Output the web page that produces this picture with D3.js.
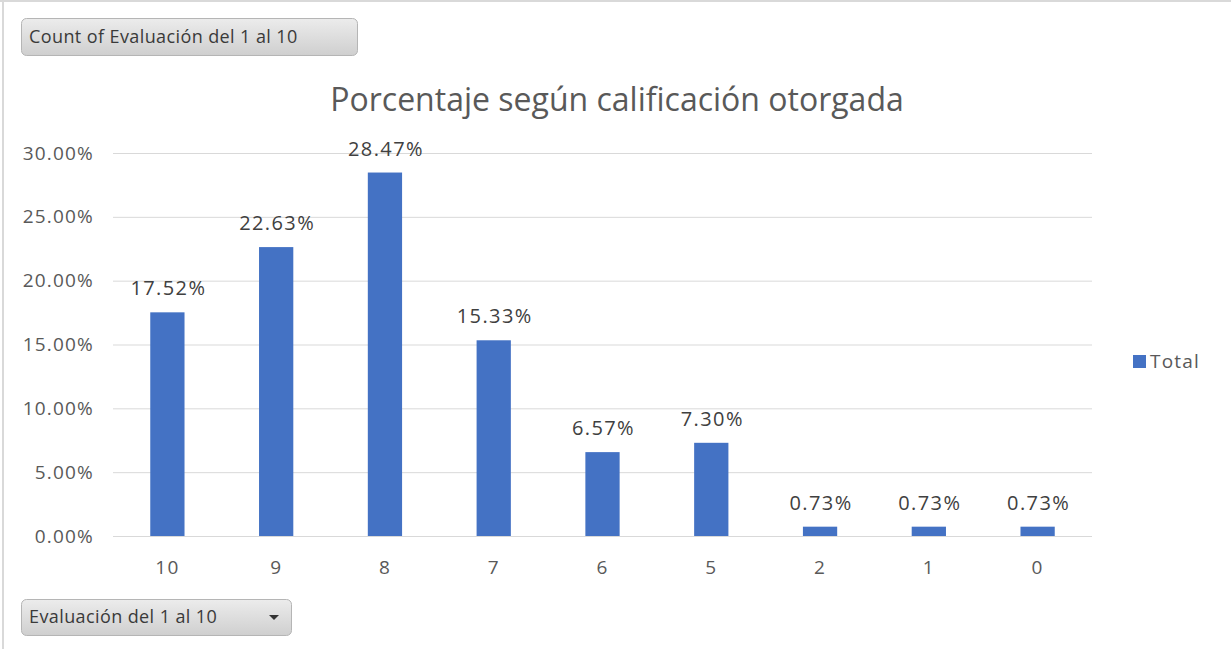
<!DOCTYPE html>
<html>
<head>
<meta charset="utf-8">
<script src="https://cdn.jsdelivr.net/npm/d3@7"></script>
<style>
  html, body { margin: 0; padding: 0; background: #fff; }
  svg { display: block; }
</style>
</head>
<body>
<svg id="chart" width="1231" height="649"></svg>
<script>
// chart data
const categories = ['10', '9', '8', '7', '6', '5', '2', '1', '0'];
const values = [17.52, 22.63, 28.47, 15.33, 6.57, 7.30, 0.73, 0.73, 0.73];
const yTicks = [0, 5, 10, 15, 20, 25, 30];
const title = 'Porcentaje según calificación otorgada';
const seriesName = 'Total';
const valueButton = 'Count of Evaluación del 1 al 10';
const axisButton = 'Evaluación del 1 al 10';

const W = 1231, H = 649;
const plot = { left: 113, right: 1092, top: 153, bottom: 536 };
const font = "'Open Sans', 'Noto Sans', sans-serif";
const barColor = '#4472c4';

const svg = d3.select('#chart');

// gradient for pivot buttons
const defs = svg.append('defs');
const grad = defs.append('linearGradient')
    .attr('id', 'btn').attr('x1', 0).attr('y1', 0).attr('x2', 0).attr('y2', 1);
grad.append('stop').attr('offset', '0%').attr('stop-color', '#ececec');
grad.append('stop').attr('offset', '100%').attr('stop-color', '#cfcfcf');

// outer frame
svg.append('line').attr('x1', 0).attr('x2', W).attr('y1', 1).attr('y2', 1)
    .attr('stroke', '#d9d9d9').attr('stroke-width', 2);
svg.append('line').attr('x1', 3).attr('x2', 3).attr('y1', 0).attr('y2', H)
    .attr('stroke', '#d9d9d9').attr('stroke-width', 2);

// scales
const x = d3.scaleBand()
    .domain(categories)
    .range([plot.left, plot.right])
    .paddingInner(0.685)
    .paddingOuter(0.3425);

const y = d3.scaleLinear()
    .domain([0, 30])
    .range([plot.bottom, plot.top]);

// grid
svg.append('g')
    .selectAll('line')
    .data(yTicks)
    .join('line')
    .attr('x1', plot.left)
    .attr('x2', plot.right)
    .attr('y1', d => y(d) + 0.5)
    .attr('y2', d => y(d) + 0.5)
    .attr('stroke', '#d9d9d9')
    .attr('stroke-width', 1);

// y axis labels
const yAxis = svg.append('g')
    .attr('transform', `translate(${plot.left - 19},0)`)
    .call(d3.axisLeft(y).tickValues(yTicks).tickSize(0).tickPadding(0)
        .tickFormat(d => d.toFixed(2) + '%'));
yAxis.select('.domain').remove();
yAxis.selectAll('text')
    .attr('font-family', font)
    .attr('font-size', 19)
    .attr('letter-spacing', 1.2)
    .attr('fill', '#595959');

// x axis labels
const xAxis = svg.append('g')
    .attr('transform', `translate(0,${plot.bottom})`)
    .call(d3.axisBottom(x).tickSize(0).tickPadding(25));
xAxis.select('.domain').remove();
xAxis.selectAll('text')
    .attr('font-family', font)
    .attr('font-size', 19)
    .attr('letter-spacing', 1.2)
    .attr('fill', '#595959');

// bars
svg.append('g')
    .selectAll('rect')
    .data(values)
    .join('rect')
    .attr('x', (d, i) => x(categories[i]))
    .attr('y', d => y(d))
    .attr('width', x.bandwidth())
    .attr('height', d => y(0) - y(d))
    .attr('fill', barColor);

// data labels
svg.append('g')
    .selectAll('text')
    .data(values)
    .join('text')
    .attr('x', (d, i) => x(categories[i]) + x.bandwidth() / 2 + 1)
    .attr('y', d => y(d) - 17)
    .attr('text-anchor', 'middle')
    .attr('font-family', font)
    .attr('font-size', 20)
    .attr('letter-spacing', 1.4)
    .attr('fill', '#404040')
    .text(d => d.toFixed(2) + '%');

// title
svg.append('text')
    .attr('x', 617)
    .attr('y', 111)
    .attr('text-anchor', 'middle')
    .attr('font-family', font)
    .attr('font-size', 32)
    .attr('fill', '#595959')
    .text(title);

// legend
svg.append('rect')
    .attr('x', 1133).attr('y', 355)
    .attr('width', 13).attr('height', 13)
    .attr('fill', barColor);
svg.append('text')
    .attr('x', 1150).attr('y', 368)
    .attr('font-family', font)
    .attr('font-size', 19)
    .attr('letter-spacing', 1.2)
    .attr('fill', '#595959')
    .text(seriesName);

// pivot field buttons
function button(bx, by, bw, bh, label, dropdown) {
    const g = svg.append('g');
    g.append('rect')
        .attr('x', bx + 0.5).attr('y', by + 0.5)
        .attr('width', bw).attr('height', bh)
        .attr('rx', 5)
        .attr('fill', 'url(#btn)')
        .attr('stroke', '#b5b5b5');
    g.append('text')
        .attr('x', bx + 8).attr('y', by + bh / 2 + 6)
        .attr('font-family', font)
        .attr('font-size', 18)
        .attr('letter-spacing', 0.4)
        .attr('fill', '#3a3a3a')
        .text(label);
    if (dropdown) {
        const cx = bx + bw - 17, cy = by + bh / 2;
        g.append('path')
            .attr('d', `M${cx - 5},${cy - 2} L${cx + 5},${cy - 2} L${cx},${cy + 3} Z`)
            .attr('fill', '#333');
    }
}
button(21, 18, 336, 37, valueButton, false);
button(21, 599, 270, 36, axisButton, true);
</script>
</body>
</html>
